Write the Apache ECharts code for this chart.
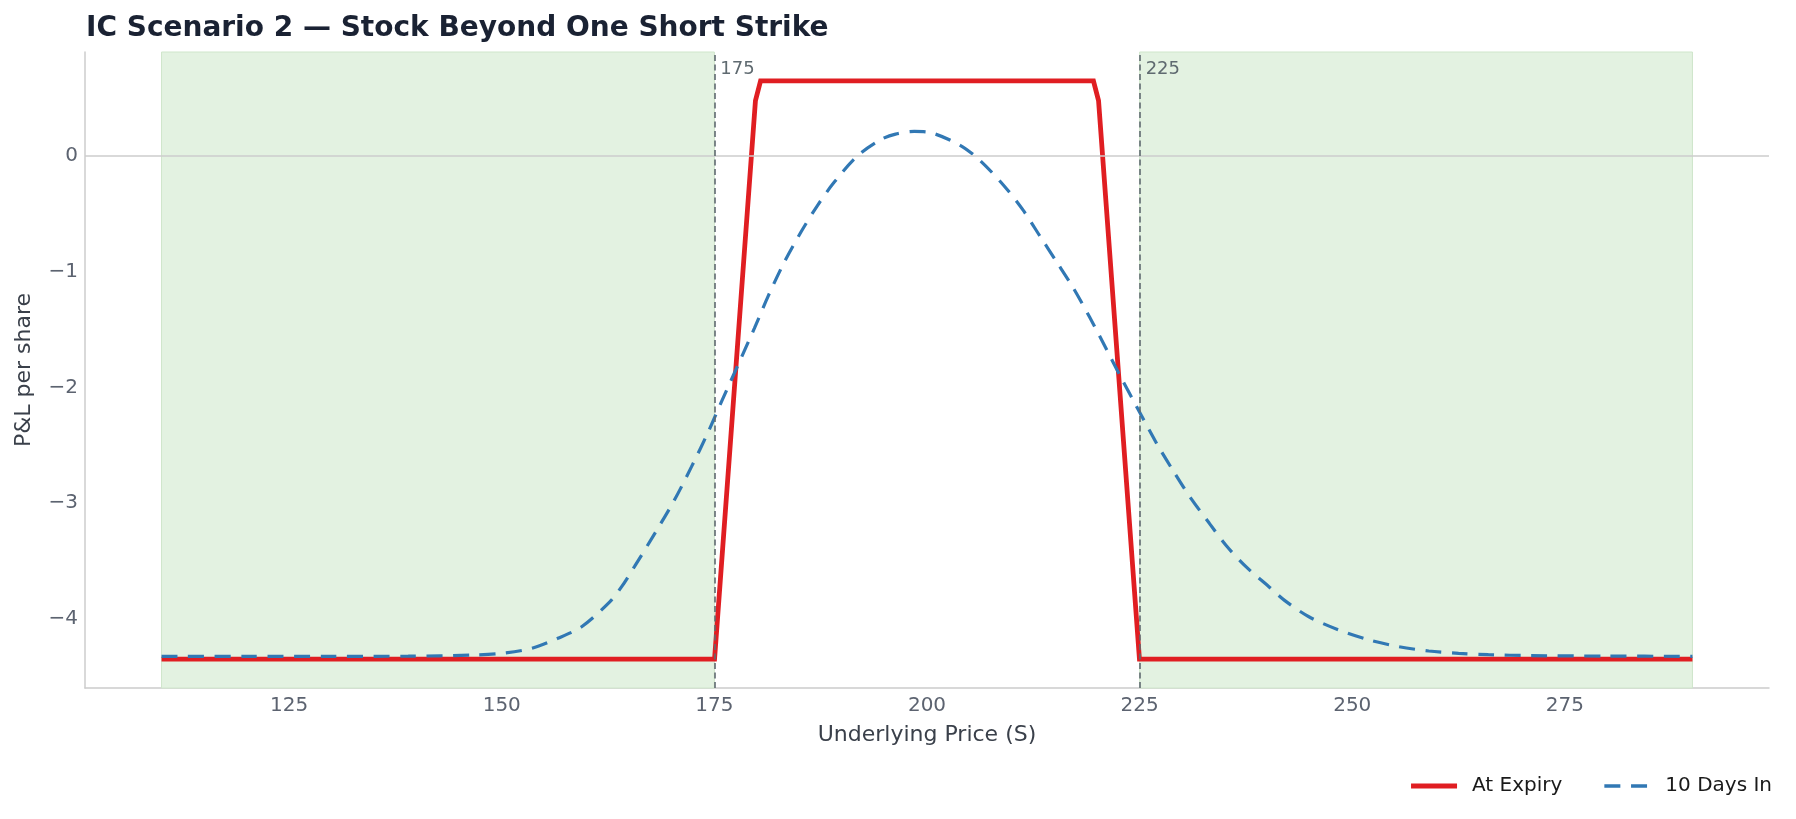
<!DOCTYPE html>
<html>
<head>
<meta charset="utf-8">
<script src="https://cdn.jsdelivr.net/npm/echarts@6/dist/echarts.min.js"></script>
<style>
  html, body { margin: 0; padding: 0; background: #ffffff; }
  #chart { width: 1796px; height: 819px; }
</style>
</head>
<body>
<div id="chart"></div>
<script>
// ---- data ----
const TITLE = 'IC Scenario 2 \u2014 Stock Beyond One Short Strike';
const X_TICKS = [125, 150, 175, 200, 225, 250, 275];
const Y_TICKS = [-4, -3, -2, -1, 0];
const X_MIN = 101, X_MAX = 299;
const Y_MIN = -4.6, Y_MAX = 0.9;

const STRIKES = [175, 225];
const BANDS = [[110, 175], [225, 290]];

const expiryX = [110, 175.02, 179.83, 180.43, 219.57, 220.17, 224.98, 290];
const expiryY = [-4.35, -4.35, 0.48, 0.65, 0.65, 0.48, -4.35, -4.35];

const daysX = [110, 120, 130, 139, 146.5, 150, 153.5, 156.6, 159.4, 162.7, 164.1, 165.6, 168.0, 170.3,
  172.3, 174.2, 175.8, 177.7, 179.7, 181.3, 183.2, 185.2, 187.1, 189.1, 191.8, 194.5, 196.3,
  198.5, 200.4, 203.9, 206.2, 209.0, 211.3, 213.3, 215.2, 217.2, 219.1, 221.1, 222.7, 224.6,
  227.0, 228.9, 230.9, 233.2, 235.2, 237.5, 240.2, 242.0, 244.9, 248.4, 252.0, 255.5, 259.0,
  262.5, 266.0, 271.0, 280, 290];
const daysY = [-4.326, -4.326, -4.326, -4.325, -4.315, -4.30, -4.257, -4.17, -4.07, -3.855, -3.724,
  -3.551, -3.263, -2.975, -2.688, -2.398, -2.13, -1.82, -1.49, -1.215, -0.92, -0.655, -0.43,
  -0.225, 0.0, 0.14, 0.19, 0.213, 0.203, 0.093, -0.036, -0.252, -0.468, -0.695, -0.91,
  -1.14, -1.39, -1.67, -1.9, -2.16, -2.485, -2.716, -2.946, -3.176, -3.37, -3.551,
  -3.724, -3.84, -3.984, -4.098, -4.185, -4.243, -4.28, -4.30, -4.312, -4.32, -4.324, -4.326];

const SERIES_NAMES = ['At Expiry', '10 Days In'];

// ---- build ----
const zip = (xs, ys) => xs.map((x, i) => [x, ys[i]]);
const fmtMinus = v => (v < 0 ? '\u2212' + Math.abs(v) : String(v));
const FONT = 'DejaVu Sans';
const RED = '#e01e22';
const BLUE = '#3178b4';

const chart = echarts.init(document.getElementById('chart'), null, { renderer: 'canvas' });
chart.setOption({
  animation: false,
  backgroundColor: '#ffffff',
  textStyle: { fontFamily: FONT },
  title: {
    text: TITLE,
    left: 81, top: 10,
    textStyle: { fontFamily: FONT, fontWeight: 'bold', fontSize: 28, color: '#1a2233' }
  },
  grid: { left: 85, right: 27, top: 52, bottom: 131, containLabel: false, outerBoundsMode: 'none' },
  legend: {
    data: [
      { name: SERIES_NAMES[0], icon: 'path://M0,0H46V5H0Z', itemStyle: { color: RED } },
      { name: SERIES_NAMES[1], icon: 'path://M0,0.8H16V4.2H0Z M26.7,0.8H42.7V4.2H26.7Z M46,0L46,5', itemStyle: { color: BLUE } }
    ],
    right: 24, top: 776, padding: 0,
    itemWidth: 46, itemHeight: 5, itemGap: 42,
    textStyle: { fontFamily: FONT, fontSize: 20, color: '#1a1a1a', padding: [0, 0, 0, 10] }
  },
  xAxis: {
    type: 'value', min: X_MIN, max: X_MAX,
    name: 'Underlying Price (S)', nameLocation: 'middle', nameGap: 36,
    nameTextStyle: { fontFamily: FONT, fontSize: 22, color: '#3a404a' },
    axisLine: { show: true, onZero: false, lineStyle: { color: '#cccccc', width: 1.5 } },
    axisTick: { show: false },
    splitLine: { show: false },
    axisLabel: { customValues: X_TICKS, fontFamily: FONT, fontSize: 20, color: '#5c6370', margin: 8 }
  },
  yAxis: {
    type: 'value', min: Y_MIN, max: Y_MAX,
    name: 'P&L per share', nameLocation: 'middle', nameGap: 50, nameRotate: 90,
    nameTextStyle: { fontFamily: FONT, fontSize: 22, color: '#3a404a' },
    axisLine: { show: true, onZero: false, lineStyle: { color: '#cccccc', width: 1.5 } },
    axisTick: { show: false },
    splitLine: { show: false },
    axisLabel: { customValues: Y_TICKS, formatter: fmtMinus, fontFamily: FONT, fontSize: 20, color: '#5c6370', margin: 7 }
  },
  series: [
    {
      name: 'guides', type: 'line', data: [], z: 1, silent: true,
      markArea: {
        silent: true,
        itemStyle: { color: '#e3f2e1', borderColor: '#cfe6cb', borderWidth: 1 },
        data: BANDS.map(b => [{ xAxis: b[0] }, { xAxis: b[1] }])
      },
      markLine: {
        silent: true, symbol: 'none', animation: false,
        label: { show: false },
        data: [
          { yAxis: 0, lineStyle: { color: '#cccccc', width: 1.5, type: 'solid' } },
          ...STRIKES.map(s => ({ xAxis: s, lineStyle: { color: '#5f6a70', width: 1.6, type: [6, 3.5] } }))
        ]
      },
      markPoint: {
        silent: true, symbol: 'circle', symbolSize: 0,
        label: {
          show: true, position: [6, 17], align: 'left', verticalAlign: 'middle',
          fontFamily: FONT, fontSize: 18, color: '#5f6a70',
          formatter: p => String(p.data.name)
        },
        data: STRIKES.map(s => ({ name: String(s), coord: [s, Y_MAX] }))
      }
    },
    {
      name: SERIES_NAMES[0], type: 'line', data: zip(expiryX, expiryY),
      symbol: 'none', z: 3,
      lineStyle: { color: RED, width: 4.8, join: 'miter' },
      itemStyle: { color: RED }
    },
    {
      name: SERIES_NAMES[1], type: 'line', data: zip(daysX, daysY),
      symbol: 'none', smooth: 0.3, z: 4,
      lineStyle: { color: BLUE, width: 3.2, type: [16, 10.5] },
      itemStyle: { color: BLUE }
    }
  ]
});
</script>
</body>
</html>
